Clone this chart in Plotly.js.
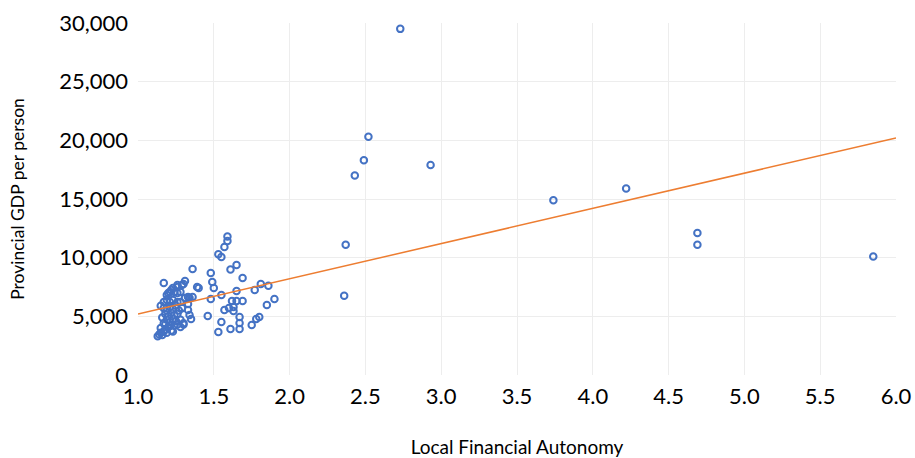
<!DOCTYPE html>
<html>
<head>
<meta charset="utf-8">
<script src="https://cdn.plot.ly/plotly-3.0.1.min.js"></script>
<style>html,body{margin:0;padding:0;background:#fff;}#chart{width:915px;height:458px;}</style>
</head>
<body>
<div id="chart"></div>
<script>
// Local Financial Autonomy (x) and Provincial GDP per person (y)
const autonomy = [
  // dense cluster
  1.17, 1.31, 1.30, 1.29, 1.26, 1.26, 1.23, 1.22, 1.21, 1.20, 1.19, 1.24, 1.26, 1.28, 1.33, 1.36, 1.39,
  1.17, 1.19, 1.21, 1.23, 1.26, 1.28, 1.31,
  1.15, 1.17, 1.19, 1.21, 1.23, 1.25, 1.27, 1.29, 1.18, 1.20, 1.22, 1.24, 1.26, 1.16, 1.19, 1.21, 1.23, 1.25, 1.28, 1.30, 1.17,
  1.33, 1.33, 1.34, 1.35,
  1.13, 1.14, 1.15, 1.16, 1.17, 1.18, 1.19, 1.20, 1.22, 1.24, 1.26, 1.28, 1.30, 1.15, 1.18, 1.21, 1.23,
  // middle group
  1.36, 1.48, 1.49, 1.50, 1.40, 1.53, 1.55, 1.57, 1.59, 1.59, 1.61, 1.65, 1.69, 1.34, 1.48, 1.55, 1.65, 1.77, 1.81, 1.86,
  1.90, 1.85, 1.62, 1.65, 1.69, 1.57, 1.60, 1.63, 1.63, 1.46, 1.55, 1.53, 1.61, 1.67, 1.67, 1.67, 1.75, 1.78, 1.80,
  // outliers
  2.73, 2.52, 2.49, 2.43, 2.93, 2.37, 2.36, 3.74, 4.22, 4.69, 4.69, 5.85
];
const gdpPerPerson = [
  7840, 8010, 7750, 7670, 7670, 7500, 7410, 7240, 7070, 6990, 6820, 7070, 6990, 7070, 6650, 6650, 7500,
  6220, 6390, 6220, 6390, 6220, 6220, 6560,
  5900, 5700, 5500, 5800, 5600, 5900, 5500, 5700, 5200, 5000, 5300, 5100, 5200, 4900, 4700, 4500, 4800, 4600, 4700, 4400, 4400,
  6050, 5540, 5110, 4770,
  3300, 3450, 3600, 3400, 3700, 3900, 3600, 4100, 3800, 4200, 4300, 4100, 4300, 4000, 4300, 4200, 3700,
  9030, 8700, 7920, 7410, 7410, 10300, 10050, 10900, 11420, 11800, 9000, 9370, 8260, 6560, 6480, 6820, 7160, 7240, 7750, 7600,
  6480, 5960, 6300, 6300, 6300, 5540, 5710, 5790, 5450, 5030, 4520, 3660, 3920, 4940, 4430, 3920, 4260, 4770, 4940,
  29500, 20300, 18300, 17000, 17900, 11100, 6750, 14900, 15900, 12100, 11100, 10100
];
// Linear trend line (y = intercept + slope * x)
const trendSlope = 3000;
const trendIntercept = 2200;
const trendX = [1.0, 6.0];
const trendY = trendX.map(x => trendIntercept + trendSlope * x);

const xTickVals = [1.0, 1.5, 2.0, 2.5, 3.0, 3.5, 4.0, 4.5, 5.0, 5.5, 6.0];
const xTickText = ["1.0", "1.5", "2.0", "2.5", "3.0", "3.5", "4.0", "4.5", "5.0", "5.5", "6.0"];
const yTickVals = [0, 5000, 10000, 15000, 20000, 25000, 30000];
const yTickText = ["0", "5,000", "10,000", "15,000", "20,000", "25,000", "30,000"];

const font = "Lato, 'Open Sans', sans-serif";

const traces = [
  {
    x: autonomy, y: gdpPerPerson, type: "scatter", mode: "markers",
    marker: {symbol: "circle-open", size: 6.5, color: "#4472C4", line: {width: 2, color: "#4472C4"}},
    hoverinfo: "x+y", showlegend: false
  },
  {
    x: trendX, y: trendY, type: "scatter", mode: "lines",
    line: {color: "#ED7D31", width: 1.5}, hoverinfo: "skip", showlegend: false
  }
];

const layout = {
  width: 915, height: 458,
  margin: {l: 138, r: 19, t: 23, b: 83},
  paper_bgcolor: "#ffffff", plot_bgcolor: "#ffffff",
  font: {family: font, color: "#000000"},
  xaxis: {
    range: [1.0, 6.0], tickvals: xTickVals, ticktext: xTickText,
    showgrid: true, gridcolor: "#EDEDED", gridwidth: 1, zeroline: false, showline: false,
    ticks: "", ticklabelstandoff: 6, tickfont: {size: 22, family: font, color: "#000"},
    title: {text: "Local Financial Autonomy", font: {size: 19, family: font, color: "#000"}, standoff: 34},
    fixedrange: true
  },
  yaxis: {
    range: [0, 30000], tickvals: yTickVals, ticktext: yTickText,
    showgrid: true, gridcolor: "#EDEDED", gridwidth: 1, zeroline: false, showline: false,
    ticks: "", ticklabelstandoff: 9, tickfont: {size: 22, family: font, color: "#000"},
    title: {text: "Provincial GDP per person", font: {size: 17.5, family: font, color: "#000"}, standoff: 30},
    fixedrange: true
  }
};

Plotly.newPlot("chart", traces, layout, {displayModeBar: false, staticPlot: true});
</script>
</body>
</html>
